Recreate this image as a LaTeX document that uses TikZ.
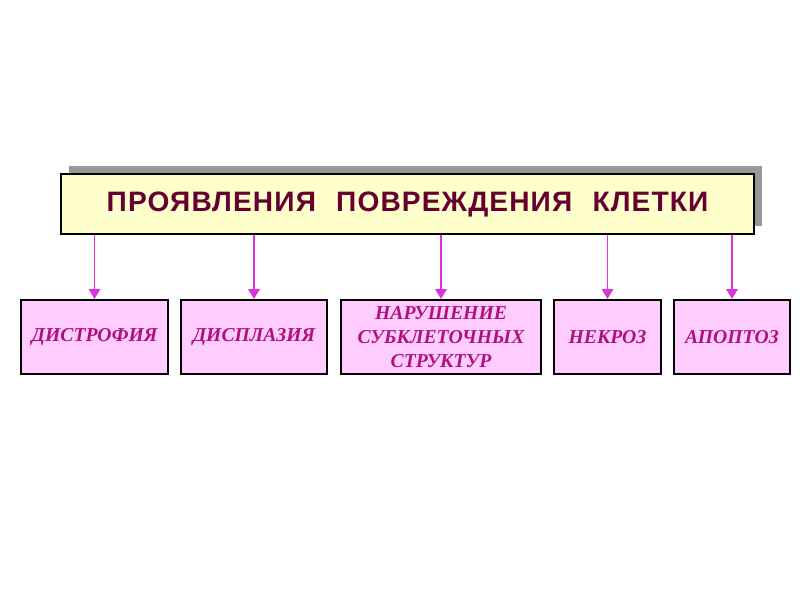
\documentclass[tikz,border=0pt]{standalone}
\usepackage{fontspec}
\setmainfont{Liberation Serif}
\newfontfamily\headfont[LetterSpace=4]{Liberation Sans}
\usetikzlibrary{arrows.meta,shadows}
\definecolor{headfill}{HTML}{FFFFCC}
\definecolor{headtext}{HTML}{660033}
\definecolor{kindfill}{HTML}{FFCCFF}
\definecolor{kindtext}{HTML}{B0107E}
\definecolor{arrowpink}{HTML}{DD33DD}
\begin{document}
\begin{tikzpicture}[x=0.025cm, y=-0.025cm,
    head/.style={draw=black, line width=1.4pt, fill=headfill,
        minimum width=17.33cm, minimum height=1.5cm,
        font=\headfont\bfseries\fontsize{20}{24}\selectfont, text=headtext,
        drop shadow={shadow xshift=0.2cm, shadow yshift=0.2cm, fill=gray!80, opacity=1}},
    kind/.style={draw=black, line width=1.4pt, fill=kindfill, minimum height=1.85cm,
        font=\bfseries\itshape\fontsize{14}{16.8}\selectfont, text=kindtext, align=center,
        inner sep=1pt},
    link/.style={draw=arrowpink, line width=1.4pt, -{Triangle[length=7pt,width=8pt]}}]
    % page
    \useasboundingbox[fill=white] (0, 0) rectangle (800, 600);

    % heading box
    \node[head] (head) at (407.5, 204) {ПРОЯВЛЕНИЯ\hspace{0.4em} ПОВРЕЖДЕНИЯ\hspace{0.4em} КЛЕТКИ};

    % kinds of damage
    \node[kind, minimum width=3.68cm] (dys) at (94.5, 337) {ДИСТРОФИЯ};
    \node[kind, minimum width=3.65cm] (dysp) at (254, 337) {ДИСПЛАЗИЯ};
    \node[kind, minimum width=5cm] (sub) at (441, 337) {НАРУШЕНИЕ\\СУБКЛЕТОЧНЫХ\\СТРУКТУР};
    \node[kind, minimum width=2.68cm] (necr) at (607.5, 337) {НЕКРОЗ};
    \node[kind, minimum width=2.9cm] (apop) at (732, 337) {АПОПТОЗ};

    % arrows from heading
    \foreach \k in {dys, dysp, sub, necr, apop} {
        \draw[link] (head.south -| \k.north) -- (\k.north);
    }
\end{tikzpicture}
\end{document}
